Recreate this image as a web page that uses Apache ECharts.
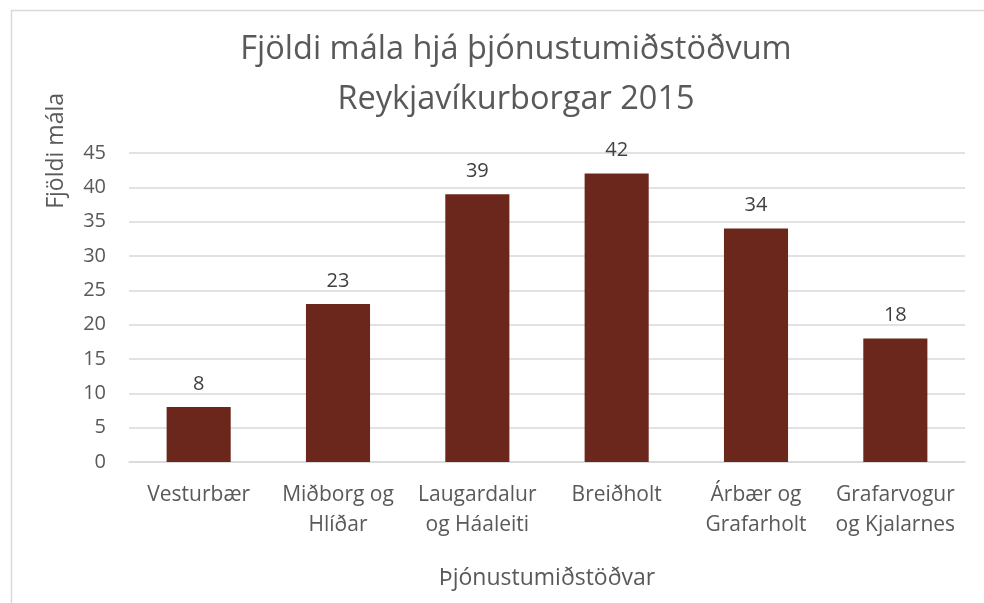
<!DOCTYPE html>
<html><head><meta charset="utf-8">
<script src="https://cdn.jsdelivr.net/npm/echarts@6/dist/echarts.min.js"></script>
<style>html,body{margin:0;padding:0;background:#fff}#c{width:984px;height:603px}</style>
</head><body><div id="c"></div>
<script>
const categories = ['Vesturbær', 'Miðborg og\nHlíðar', 'Laugardalur\nog Háaleiti', 'Breiðholt', 'Árbær og\nGrafarholt', 'Grafarvogur\nog Kjalarnes'];
const values = [8, 23, 39, 42, 34, 18];
const yTicks = { min: 0, max: 45, interval: 5 };
const titleText = 'Fjöldi mála hjá þjónustumiðstöðvum\nReykjavíkurborgar 2015';
const yName = 'Fjöldi mála';
const xName = 'Þjónustumiðstöðvar';

const FONT = 'Open Sans';
const chart = echarts.init(document.getElementById('c'), null, { renderer: 'canvas' });
chart.setOption({
  animation: false,
  backgroundColor: '#fff',
  title: {
    text: titleText,
    left: 511, top: 20, textAlign: 'center',
    textStyle: { fontFamily: FONT, fontSize: 32.5, fontWeight: 'normal', color: '#595959', lineHeight: 50 }
  },
  grid: { left: 129, right: 19, top: 153, bottom: 141, containLabel: false },
  xAxis: {
    type: 'category',
    data: categories,
    name: xName,
    nameLocation: 'middle',
    nameGap: 105,
    nameTextStyle: { fontFamily: FONT, fontSize: 23, color: '#595959' },
    axisLine: { lineStyle: { color: '#d9d9d9', width: 1.5 } },
    axisTick: { show: false },
    axisLabel: { fontFamily: FONT, fontSize: 21, color: '#595959', margin: 18, lineHeight: 30, interval: 0 }
  },
  yAxis: {
    type: 'value',
    min: yTicks.min, max: yTicks.max, interval: yTicks.interval,
    axisLine: { show: false },
    axisTick: { show: false },
    splitLine: { lineStyle: { color: '#d9d9d9', width: 1.5 } },
    axisLabel: { fontFamily: FONT, fontSize: 20, color: '#595959', margin: 23 }
  },
  graphic: [
    { type: 'rect', left: 9, top: 8, shape: { width: 1000, height: 700 }, style: { fill: 'none', stroke: '#d9d9d9', lineWidth: 1.5 }, silent: true },
    { type: 'text', left: 45, top: 93, rotation: Math.PI / 2, style: { text: yName, fontFamily: FONT, fontSize: 23, fill: '#595959' } }
  ],
  series: [{
    type: 'bar',
    data: values,
    barWidth: '46%',
    itemStyle: { color: '#6b271c' },
    label: { show: true, position: 'top', distance: 13, fontFamily: FONT, fontSize: 20, color: '#404040' }
  }]
});
</script></body></html>
